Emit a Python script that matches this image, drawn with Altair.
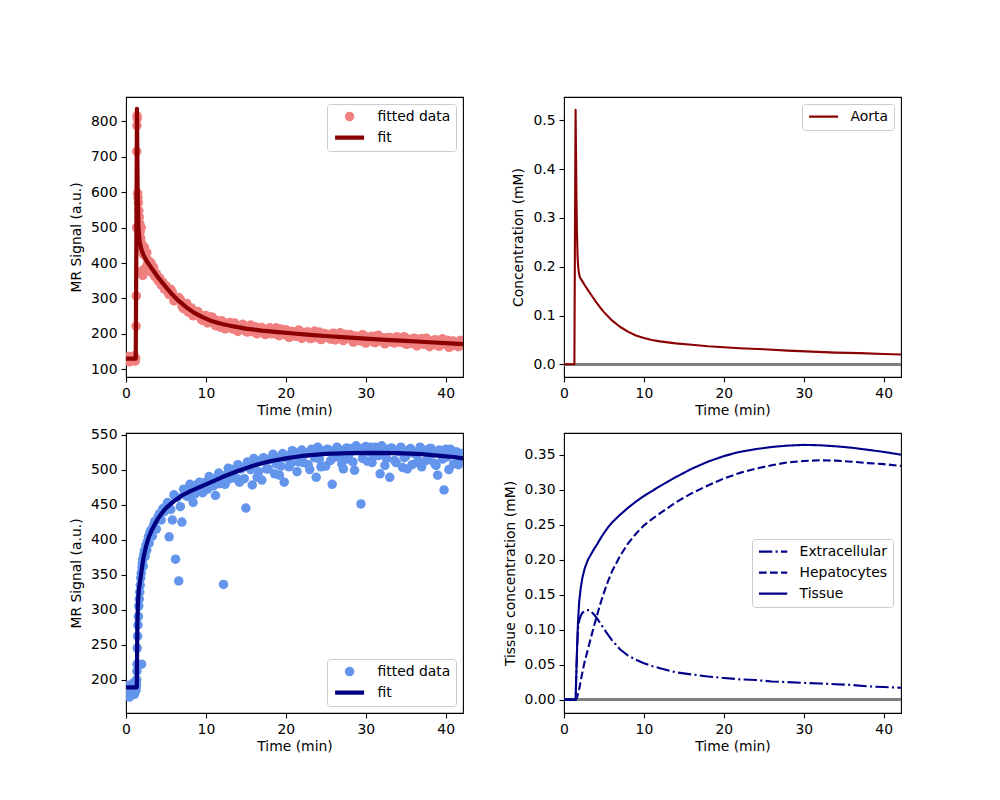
import altair as alt
import pandas as pd

# ---------------- data ----------------
t_data = [0.0, 0.15, 0.3, 0.45, 0.6, 0.75, 0.9, 1.05, 1.15, 1.22,
          1.26, 1.29, 1.32, 1.34, 1.36, 1.38, 1.4, 1.45, 1.5, 1.55,
          1.6, 1.66, 1.72, 1.78, 1.84, 1.9, 1.95, 2.0, 2.05, 2.1,
          2.15, 2.2, 2.3, 2.4, 2.5, 2.6, 2.7, 2.8, 2.9, 3.0,
          3.15, 3.3, 3.45, 3.6, 3.8, 4.0, 4.2, 4.4, 4.6, 4.8,
          5.0, 5.4, 5.8, 6.2, 6.6, 7.0, 7.4, 7.8, 8.2, 8.6,
          9.0, 9.4, 9.8, 10.2, 10.6, 11.0, 11.4, 11.8, 12.2, 12.6,
          13.0, 13.4, 13.8, 14.2, 14.6, 15.0, 15.4, 15.8, 16.2, 16.6,
          17.0, 17.4, 17.8, 18.2, 18.6, 19.0, 19.4, 19.8, 20.2, 20.6,
          21.0, 21.4, 21.8, 22.2, 22.6, 23.0, 23.4, 23.8, 24.2, 24.6,
          25.0, 25.4, 25.8, 26.2, 26.6, 27.0, 27.4, 27.8, 28.2, 28.6,
          29.0, 29.4, 29.8, 30.2, 30.6, 31.0, 31.4, 31.8, 32.2, 32.6,
          33.0, 33.4, 33.8, 34.2, 34.6, 35.0, 35.4, 35.8, 36.2, 36.6,
          37.0, 37.4, 37.8, 38.2, 38.6, 39.0, 39.4, 39.8, 40.2, 40.6,
          41.0, 41.4, 41.8, 42.1]

t_data2 = [5.2, 5.6, 6.0, 6.4, 6.8, 7.2, 7.6, 8.0, 8.4, 8.8,
           9.2, 9.6, 10.0, 10.4, 10.8, 11.2, 11.6, 12.0, 12.4, 12.8,
           13.2, 13.6, 14.0, 14.4, 14.8, 15.2, 15.6, 16.0, 16.4, 16.8,
           17.2, 17.6, 18.0, 18.4, 18.8, 19.2, 19.6, 20.0, 20.4, 20.8,
           21.2, 21.6, 22.0, 22.4, 22.8, 23.2, 23.6, 24.0, 24.4, 24.8,
           25.2, 25.6, 26.0, 26.4, 26.8, 27.2, 27.6, 28.0, 28.4, 28.8,
           29.2, 29.6, 30.0, 30.4, 30.8, 31.2, 31.6, 32.0, 32.4, 32.8,
           33.2, 33.6, 34.0, 34.4, 34.8, 35.2, 35.6, 36.0, 36.4, 36.8,
           37.2, 37.6, 38.0, 38.4, 38.8, 39.2, 39.6, 40.0, 40.4, 40.8,
           41.2, 41.6, 42.0]

mr_aorta_data = [130, 124, 136, 121, 128, 133, 125, 138, 123, 131,
                 222, 307, 500, 715, 788, 815, 808, 597, 585, 570,
                 548, 530, 512, 488, 470, 500, 455, 378, 438, 365,
                 425, 372, 445, 385, 418, 430, 398, 382, 405, 378,
                 400, 372, 388, 362, 370, 350, 358, 338, 346, 327,
                 336, 311, 318, 297, 303, 278, 281, 261, 273, 254,
                 263, 241, 250, 231, 248, 230, 238, 219, 232, 219,
                 232, 213, 224, 215, 227, 207, 220, 206, 220, 206,
                 218, 198, 212, 200, 212, 197, 214, 198, 208, 192,
                 205, 193, 208, 196, 205, 187, 202, 190, 205, 187,
                 200, 189, 201, 183, 196, 185, 199, 187, 196, 178,
                 192, 180, 195, 181, 192, 176, 195, 180, 189, 175,
                 190, 176, 191, 178, 187, 171, 185, 173, 187, 175,
                 187, 170, 181, 171, 183, 167, 180, 172, 182, 164,
                 179, 167, 181, 167]

mr_aorta_data2 = [319, 326, 293, 300, 297, 271, 286, 266, 251, 263,
                  255, 238, 252, 233, 247, 223, 231, 237, 214, 230,
                  216, 231, 207, 220, 224, 205, 225, 210, 200, 217,
                  213, 200, 217, 201, 217, 195, 205, 212, 190, 207,
                  194, 211, 187, 201, 205, 187, 208, 193, 184, 201,
                  197, 185, 202, 186, 203, 181, 191, 198, 177, 194,
                  181, 198, 174, 189, 193, 175, 196, 182, 172, 190,
                  186, 174, 191, 176, 192, 171, 180, 188, 166, 184,
                  171, 188, 164, 179, 183, 165, 186, 172, 162, 180,
                  176, 164, 181]

mr_liver_data = [185, 178, 192, 175, 188, 182, 195, 179, 190, 184,
                 186, 195, 192, 200, 212, 222, 245, 262, 278, 290,
                 305, 315, 325, 335, 345, 352, 222, 360, 366, 372,
                 362, 378, 384, 376, 392, 385, 398, 404, 395, 410,
                 414, 405, 420, 426, 415, 432, 437, 428, 444, 440,
                 447, 404, 428, 372, 341, 425, 466, 462, 473, 465,
                 477, 468, 480, 472, 485, 477, 489, 480, 336, 493,
                 487, 498, 488, 482, 503, 445, 505, 478, 509, 497,
                 485, 513, 501, 515, 494, 517, 505, 482, 519, 508,
                 521, 497, 522, 510, 524, 500, 526, 489, 515, 527,
                 505, 528, 479, 518, 529, 508, 527, 515, 530, 499,
                 528, 451, 531, 512, 532, 520, 530, 494, 527, 516,
                 489, 529, 510, 526, 503, 519, 528, 507, 524, 513,
                 504, 527, 516, 530, 509, 492, 526, 471, 518, 529,
                 508, 525, 514, 523]

mr_liver_data2 = [453, 443, 464, 460, 447, 472, 462, 479, 453, 478,
                  482, 467, 482, 490, 477, 463, 495, 490, 479, 502,
                  500, 488, 507, 501, 487, 511, 500, 516, 489, 513,
                  517, 501, 515, 522, 508, 492, 523, 517, 504, 527,
                  524, 511, 528, 522, 507, 529, 517, 532, 504, 527,
                  529, 513, 526, 532, 517, 501, 531, 524, 511, 534,
                  530, 516, 533, 526, 510, 532, 520, 534, 506, 529,
                  531, 513, 526, 532, 517, 501, 530, 523, 510, 532,
                  528, 513, 530, 523, 506, 528, 515, 529, 500, 523,
                  525, 507, 519]

t_fit_aorta = [0, 1.22, 1.3, 1.37, 1.45, 1.55, 1.7, 1.9, 2.2, 2.6, 3.0, 3.5,
               4.0, 4.5, 5.0, 5.8, 6.6, 7.5, 8.5, 9.5, 10.5, 12, 13.5, 15,
               17, 19, 21, 23, 25, 27.5, 30, 32.5, 35, 37.5, 40, 42.17]
mr_fit_aorta = [130, 130, 480, 835, 620, 500, 462, 440, 422, 405, 392, 376,
                360, 346, 332, 311, 293, 276, 260, 248, 238, 228, 221, 215,
                209, 205, 201, 197, 194, 190, 186.5, 183, 180, 177, 174, 171]

t_fit_liver = [0, 1.35, 1.42, 1.5, 1.6, 1.78, 2.0, 2.2, 2.5, 2.8, 3.2, 3.6,
               4.0, 4.5, 5, 6, 7, 8, 9, 10, 12, 14, 16, 18, 20, 22, 25, 28,
               31, 34, 37, 39, 41, 42.17]
mr_fit_liver = [189, 189, 280, 310, 328, 342, 360, 375, 390, 402, 413, 422,
                430, 438, 445, 455, 463, 469, 474, 479, 489, 498, 506, 512,
                516, 519.5, 522.5, 523.5, 524, 523.5, 522, 520, 518, 516]

t_conc = [0, 1.3, 1.38, 1.45, 1.5, 1.56, 1.62, 1.7, 1.8, 1.9, 2.0, 2.3, 2.6,
          3.0, 3.5, 4.0, 4.5, 5, 6, 7, 8, 9, 10, 11, 12, 14, 16, 18, 20, 22,
          25, 28, 31, 34, 37, 40, 42.17]
c_aorta = [0, 0, 0.30, 0.522, 0.44, 0.34, 0.27, 0.22, 0.195, 0.184, 0.178,
           0.170, 0.162, 0.152, 0.140, 0.128, 0.117, 0.107, 0.090, 0.077,
           0.067, 0.059, 0.054, 0.050, 0.047, 0.043, 0.040, 0.037, 0.035,
           0.033, 0.031, 0.028, 0.026, 0.024, 0.023, 0.021, 0.020]

t_tis = [0, 1.45, 1.55, 1.65, 1.75, 1.9, 2.1, 2.3, 2.6, 3.0, 3.4, 3.8, 4.2,
         4.6, 5.0, 5.5, 6, 7, 8, 9, 10, 11, 12, 14, 16, 18, 20, 22, 24, 26,
         28, 30, 32, 34, 36, 38, 40, 42.17]
c_extracellular = [0, 0, 0.04, 0.075, 0.1, 0.113, 0.12, 0.124, 0.127, 0.128,
                   0.126, 0.121, 0.115, 0.108, 0.101, 0.093, 0.085, 0.072,
                   0.063, 0.057, 0.052, 0.048, 0.045, 0.039, 0.036, 0.033,
                   0.031, 0.029, 0.028, 0.026, 0.025, 0.024, 0.023, 0.022,
                   0.021, 0.019, 0.018, 0.017]
c_hepatocytes = [0, 0, 0.001, 0.004, 0.008, 0.015, 0.027, 0.039, 0.055, 0.072,
                 0.09, 0.107, 0.123, 0.139, 0.153, 0.169, 0.183, 0.205, 0.223,
                 0.237, 0.249, 0.258, 0.266, 0.282, 0.295, 0.306, 0.316, 0.324,
                 0.330, 0.335, 0.339, 0.341, 0.342, 0.3415, 0.340, 0.338,
                 0.3365, 0.334]
c_tissue = [0, 0, 0.04, 0.08, 0.11, 0.14, 0.16, 0.174, 0.188, 0.2, 0.208,
            0.216, 0.223, 0.231, 0.238, 0.246, 0.253, 0.264, 0.274, 0.283,
            0.291, 0.298, 0.305, 0.318, 0.330, 0.340, 0.348, 0.354, 0.358,
            0.361, 0.363, 0.364, 0.3635, 0.362, 0.360, 0.357, 0.354, 0.350]

x_ticks = [0, 10, 20, 30, 40]
y_ticks_tl = [100, 200, 300, 400, 500, 600, 700, 800]
y_ticks_tr = [0.0, 0.1, 0.2, 0.3, 0.4, 0.5]
y_ticks_bl = [200, 250, 300, 350, 400, 450, 500, 550]
y_ticks_br = [0.0, 0.05, 0.10, 0.15, 0.20, 0.25, 0.30, 0.35]

# ---------------- styling ----------------
W, H = 337, 280
FONT = "DejaVu Sans"
xscale = alt.Scale(domain=[0, 42.17], nice=False, zero=False)
xaxis = alt.Axis(values=x_ticks, title="Time (min)")
scatter_series = ["fitted data", "fit"]


def scatter_panel(t, v, tf, vf, pcol, lcol, ydom, yticks, legend_orient):
    pts = pd.DataFrame({"t": t, "v": v, "series": ["fitted data"] * len(t)})
    fit = pd.DataFrame({"t": tf, "v": vf})
    yscale = alt.Scale(domain=ydom, nice=False, zero=False)
    yaxis = alt.Axis(values=yticks, title="MR Signal (a.u.)")
    leg = alt.Legend(title=None, orient=legend_orient)
    p = alt.Chart(pts).mark_point(filled=True, opacity=1, clip=True).encode(
        x=alt.X("t:Q", scale=xscale, axis=xaxis),
        y=alt.Y("v:Q", scale=yscale, axis=yaxis),
        fill=alt.Fill("series:N", scale=alt.Scale(domain=scatter_series, range=[pcol, lcol]), legend=leg),
        stroke=alt.Stroke("series:N", scale=alt.Scale(domain=scatter_series, range=[pcol, lcol]), legend=leg),
        shape=alt.Shape("series:N", scale=alt.Scale(domain=scatter_series, range=["circle", "stroke"]), legend=leg),
        size=alt.Size("series:N", scale=alt.Scale(type="point", padding=0, domain=scatter_series, range=[90, 840]), legend=leg),
        strokeWidth=alt.StrokeWidth("series:N", scale=alt.Scale(type="point", padding=0, domain=scatter_series, range=[0, 4.2]), legend=leg),
    )
    l = alt.Chart(fit).mark_line(color=lcol, strokeWidth=4.2, clip=True, strokeJoin="round").encode(
        x=alt.X("t:Q", scale=xscale, axis=xaxis),
        y=alt.Y("v:Q", scale=yscale, axis=yaxis),
    )
    return alt.layer(p, l).properties(width=W, height=H)


tl = scatter_panel(t_data + t_data2, mr_aorta_data + mr_aorta_data2, t_fit_aorta, mr_fit_aorta,
                   "#F08080", "#8B0000", [78.3, 868.5], y_ticks_tl, "top-right")
bl = scatter_panel(t_data + t_data2, mr_liver_data + mr_liver_data2, t_fit_liver, mr_fit_liver,
                   "#6495ED", "#000080", [152.3, 552.3], y_ticks_bl, "bottom-right")

# top right: aorta concentration
aorta_df = pd.DataFrame({"t": t_conc, "c": c_aorta, "series": ["Aorta"] * len(t_conc)})
tr_y = alt.Scale(domain=[-0.026, 0.548], nice=False, zero=False)
tr_yaxis = alt.Axis(values=y_ticks_tr, format=".1f", title="Concentration (mM)")
tr_zero = alt.Chart(aorta_df).mark_rule(color="gray", strokeWidth=2).encode(
    y=alt.datum(0, scale=tr_y, axis=tr_yaxis))
tr_line = alt.Chart(aorta_df).mark_line(strokeWidth=2.1, clip=True, strokeJoin="round").encode(
    x=alt.X("t:Q", scale=xscale, axis=xaxis),
    y=alt.Y("c:Q", scale=tr_y, axis=tr_yaxis),
    stroke=alt.Stroke("series:N", scale=alt.Scale(domain=["Aorta"], range=["#8B0000"]),
                      legend=alt.Legend(title=None, orient="top-right", symbolType="stroke",
                                        symbolSize=840, symbolStrokeWidth=2.1)),
)
tr = alt.layer(tr_zero, tr_line).properties(width=W, height=H)

# bottom right: tissue concentrations
series_br = ["Extracellular", "Hepatocytes", "Tissue"]
br_rows = []
for name, vals in zip(series_br, [c_extracellular, c_hepatocytes, c_tissue]):
    for tt, vv in zip(t_tis, vals):
        br_rows.append({"t": tt, "c": vv, "series": name})
br_df = pd.DataFrame(br_rows)
br_y = alt.Scale(domain=[-0.0191, 0.381], nice=False, zero=False)
br_yaxis = alt.Axis(values=y_ticks_br, format=".2f", title="Tissue concentration (mM)")
br_leg = alt.Legend(title=None, orient="none", legendX=188, legendY=106, symbolType="stroke",
                    symbolSize=800, symbolStrokeWidth=2.1)
br_zero = alt.Chart(br_df).mark_rule(color="gray", strokeWidth=2).encode(
    y=alt.datum(0, scale=br_y, axis=br_yaxis))
br_line = alt.Chart(br_df).mark_line(strokeWidth=2.1, clip=True, strokeJoin="round").encode(
    x=alt.X("t:Q", scale=xscale, axis=xaxis),
    y=alt.Y("c:Q", scale=br_y, axis=br_yaxis),
    stroke=alt.Stroke("series:N", scale=alt.Scale(domain=series_br, range=["#00008B"] * 3), legend=br_leg),
    strokeDash=alt.StrokeDash("series:N", scale=alt.Scale(domain=series_br,
                              range=[[13.3, 3.3, 2.1, 3.3], [7.7, 3.3], [1, 0]]), legend=br_leg),
)
br = alt.layer(br_zero, br_line).properties(width=W, height=H)

chart = alt.concat(tl, tr, bl, br, columns=2, spacing={"row": 56, "column": 101},
                   bounds="flush").resolve_scale(
    x="independent", y="independent", fill="independent", stroke="independent",
    shape="independent", size="independent", strokeWidth="independent",
    strokeDash="independent").resolve_legend(
    fill="independent", stroke="independent", shape="independent", size="independent",
    strokeWidth="independent", strokeDash="independent"
).properties(
    padding={"left": 60, "top": 88, "right": 10, "bottom": 10}
).configure_view(
    stroke="black", strokeWidth=1.1
).configure_axis(
    grid=False, domain=False, tickColor="black", tickSize=5, tickWidth=1.1,
    labelFont=FONT, labelFontSize=13.9, labelColor="black", labelPadding=4,
    labelFlush=False, labelOverlap=False,
    titleFont=FONT, titleFontSize=13.9, titleFontWeight="normal", titleColor="black"
).configure_axisX(
    titlePadding=4
).configure_axisY(
    titlePadding=7
).configure_legend(
    labelFont=FONT, labelFontSize=13.9, labelColor="black", padding=5.6, rowPadding=7,
    labelOffset=11, clipHeight=14, strokeColor="#cccccc", fillColor="rgba(255,255,255,0.8)",
    cornerRadius=3, offset=7, symbolOpacity=1
)

chart.save("out.html", embed_options={"renderer": "svg", "actions": False})
